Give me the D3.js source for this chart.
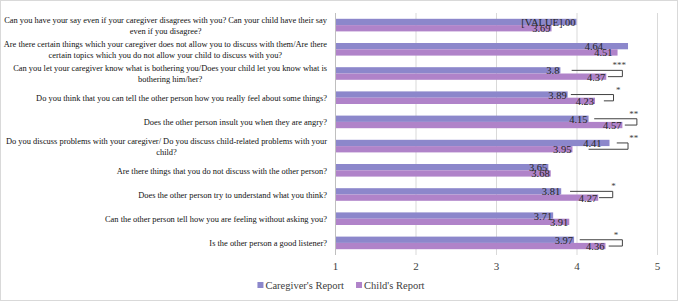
<!DOCTYPE html>
<html>
<head>
<meta charset="utf-8">
<script src="https://cdn.jsdelivr.net/npm/d3@7"></script>
<style>
  body { margin: 0; background: #fff; }
</style>
</head>
<body>
<div id="chart"></div>
<script>
// questions, split into the lines shown in the picture
const categories = [
  ["Can you have your say even if your caregiver disagrees with you? Can your child have their say", "even if you disagree?"],
  ["Are there certain things which your caregiver does not allow you to discuss with them/Are there", "certain topics which you do not allow your child to discuss with you?"],
  ["Can you let your caregiver know what is bothering you/Does your child let you know what is", "bothering him/her?"],
  ["Do you think that you can tell the other person how you really feel about some things?"],
  ["Does the other person insult you when they are angry?"],
  ["Do you discuss problems with your caregiver/ Do you discuss child-related problems with your", "child?"],
  ["Are there things that you do not discuss with the other person?"],
  ["Does the other person try to understand what you think?"],
  ["Can the other person tell how you are feeling without asking you?"],
  ["Is the other person a good listener?"]
];
const seriesNames = ["Caregiver's Report", "Child's Report"];
const caregiver = [4.00, 4.64, 3.80, 3.89, 4.15, 4.41, 3.65, 3.81, 3.71, 3.97];
const child = [3.69, 4.51, 4.37, 4.23, 4.57, 3.95, 3.68, 4.27, 3.91, 4.36];
const caregiverLabels = ["[VALUE].00", "4.64", "3.8", "3.89", "4.15", "4.41", "3.65", "3.81", "3.71", "3.97"];
const childLabels = ["3.69", "4.51", "4.37", "4.23", "4.57", "3.95", "3.68", "4.27", "3.91", "4.36"];
const xTicks = [1, 2, 3, 4, 5];
// significance brackets: row index, stars, and bracket ends in axis units
const sigRows = [2, 3, 4, 5, 7, 9];
const sigStars = ["***", "*", "**", "**", "*", "*"];
const sigTop = [3.94, 3.93, 4.22, 4.50, 3.92, 4.04];
const sigBottom = [4.39, 4.34, 4.60, 4.15, 4.28, 4.40];
const sigRight = [4.57, 4.46, 4.75, 4.64, 4.45, 4.57];
const sigStarAt = [4.53, 4.52, 4.71, 4.71, 4.46, 4.49];

const colors = ["#8c87cb", "#b083c9"];
const W = 678, H = 301;
const serif = "'Liberation Serif', 'Times New Roman', serif";

const svg = d3.select("#chart").append("svg")
  .attr("width", W).attr("height", H)
  .style("font-family", serif);

svg.append("rect")
  .attr("x", 0.5).attr("y", 0.5)
  .attr("width", W - 1).attr("height", H - 1)
  .attr("fill", "#fff").attr("stroke", "#d9d9d9");

const x = d3.scaleLinear().domain([1, 5]).range([335, 657]);
const y = d3.scaleBand().domain(d3.range(categories.length)).range([13, 255]);
const pairH = 12.6;
const sub = d3.scaleBand().domain([0, 1]).range([0, pairH]);
const rowTop = i => y(i) + (y.bandwidth() - pairH) / 2;

// gridlines
svg.append("g")
  .selectAll("line")
  .data(xTicks)
  .join("line")
  .attr("x1", d => x(d) + 0.5).attr("x2", d => x(d) + 0.5)
  .attr("y1", 13).attr("y2", 255)
  .attr("stroke", d => d === 1 ? "#bfbfbf" : "#d9d9d9");

// bottom tick labels
svg.append("g")
  .attr("transform", "translate(0,255)")
  .call(d3.axisBottom(x).tickValues(xTicks).tickFormat(d3.format("d")).tickSize(0).tickPadding(7))
  .call(g => g.select(".domain").remove())
  .call(g => g.attr("font-family", null).selectAll("text")
    .style("font-family", serif)
    .attr("font-size", 11)
    .attr("fill", "#404040"));

// bars
const rows = categories.map((c, i) => ({ i, vals: [caregiver[i], child[i]], labels: [caregiverLabels[i], childLabels[i]] }));
const rowG = svg.append("g").selectAll("g")
  .data(rows)
  .join("g")
  .attr("transform", d => "translate(0," + rowTop(d.i) + ")");

rowG.selectAll("rect")
  .data(d => d.vals.map((v, s) => ({ v, s })))
  .join("rect")
  .attr("x", x(1) + 1)
  .attr("y", d => sub(d.s))
  .attr("width", d => x(d.v) - x(1) - 1)
  .attr("height", sub.bandwidth())
  .attr("fill", d => colors[d.s]);

// value labels, sitting at the bar ends (a couple were moved by hand in the original)
const labelNudge = { "1-0": -24, "1-1": -4, "5-0": -7 };
rowG.selectAll("text.val")
  .data(d => d.vals.map((v, s) => ({ v, s, i: d.i, label: d.labels[s] })))
  .join("text")
  .attr("class", "val")
  .attr("x", d => x(d.v) - 1 + (labelNudge[d.i + "-" + d.s] || 0))
  .attr("y", d => sub(d.s) + sub.bandwidth() + 0.8)
  .attr("text-anchor", "end")
  .attr("font-size", 10.5)
  .attr("fill", "#262626")
  .text(d => d.label);

// category labels: each block right-aligned, lines centred within it
const catG = svg.append("g");
let catSize = 9.5;
{
  // fit the font so the longest first line spans the label area as in the original
  const probe = catG.append("text").attr("font-size", 10).text(categories[0][0]);
  catSize = 10 * 323 / probe.node().getComputedTextLength();
  probe.remove();
}
categories.forEach((lines, i) => {
  const g = catG.append("g");
  const lh = 10.6;
  const cy = y(i) + y.bandwidth() / 2;
  const texts = lines.map((ln, k) => g.append("text")
    .attr("font-size", catSize)
    .attr("fill", "#111")
    .attr("text-anchor", "middle")
    .attr("y", cy + (k - (lines.length - 1) / 2) * lh + 3.2)
    .text(ln));
  const maxW = d3.max(texts, t => t.node().getComputedTextLength());
  texts.forEach(t => t.attr("x", 327 - maxW / 2));
});

// significance brackets
const sigG = svg.append("g");
sigRows.forEach((r, k) => {
  const top = rowTop(r) + sub(0) + sub.bandwidth() / 2;
  const bot = rowTop(r) + sub(1) + sub.bandwidth() / 2;
  const path = d3.path();
  path.moveTo(x(sigTop[k]), top);
  path.lineTo(x(sigRight[k]), top);
  path.lineTo(x(sigRight[k]), bot);
  path.lineTo(x(sigBottom[k]), bot);
  sigG.append("path")
    .attr("d", path.toString())
    .attr("fill", "none")
    .attr("stroke", "#404040")
    .attr("stroke-width", 1);
  sigG.append("text")
    .attr("x", x(sigStarAt[k]))
    .attr("y", top - 2)
    .attr("text-anchor", "middle")
    .attr("font-size", 9)
    .attr("fill", "#404040")
    .text(sigStars[k]);
});

// legend, centred under the chart
const legend = svg.append("g").attr("transform", "translate(0,282)");
let lx = 0;
const items = seriesNames.map((n, s) => {
  const it = legend.append("g").attr("transform", "translate(" + lx + ",0)");
  it.append("rect")
    .attr("x", 0).attr("y", 0)
    .attr("width", 6).attr("height", 6)
    .attr("fill", colors[s]);
  const t = it.append("text")
    .attr("x", 8).attr("y", 6.8)
    .attr("font-size", 10.5)
    .attr("fill", "#404040")
    .text(n);
  lx += 8 + t.node().getComputedTextLength() + 12;
  return it;
});
legend.attr("transform", "translate(" + (341 - (lx - 12) / 2) + ",282)");
</script>
</body>
</html>
